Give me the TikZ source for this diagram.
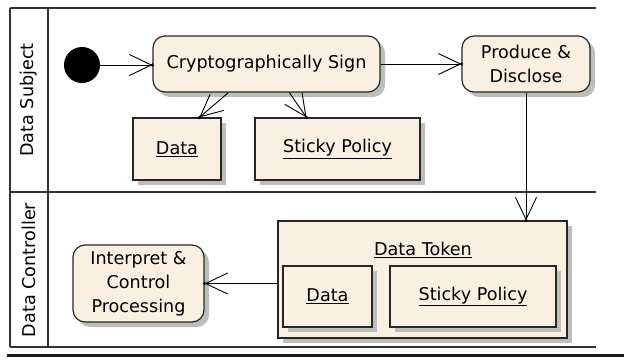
\documentclass[tikz,border=0pt]{standalone}
\usepackage{fontspec}
\setmainfont{DejaVu Sans}
\usetikzlibrary{arrows.meta,shadows,calc}
\definecolor{actfill}{HTML}{FAF0E1}
\definecolor{shade}{HTML}{BDBDBD}
\tikzset{
  every node/.style={font=\fontsize{17.6}{24}\selectfont, inner sep=0pt},
  withshadow/.style={general shadow={shadow xshift=5pt, shadow yshift=-5pt, fill=shade}},
  action/.style={draw=black!85, line width=1.2pt, fill=actfill, rounded corners=12pt,
                 align=center, withshadow},
  object/.style={draw=black!85, line width=1.2pt, fill=actfill, align=center, withshadow},
  lane/.style={draw=black!80, line width=1.6pt},
  flow/.style={draw=black, line width=0.9pt,
               -{Straight Barb[length=22pt,width=21pt,line width=0.9pt]}},
  tipdot/.style={fill=black},
}
\begin{document}
\begin{tikzpicture}[x=1pt,y=-1pt]
\useasboundingbox (0,0) rectangle (624,360);
\fill[white] (0,0) rectangle (624,360);

% swimlane frame
\draw[lane] (10,8) -- (596,8);
\draw[lane] (10,8) -- (10,347);
\draw[lane] (48,8) -- (48,347);
\draw[lane] (10,192) -- (596,192);
\draw[lane] (10,347) -- (596,347);
\draw[black!90, line width=3pt] (7,355) -- (624,355);

\node[rotate=90] (laneA) at (29,100) {Data Subject};
\node[rotate=90] (laneB) at (29,270) {Data Controller};

% upper lane
\node[circle, fill=black, minimum size=36pt] (start) at (82,65) {};
\node[action, minimum width=227pt, minimum height=56pt] (sign) at (266.5,64)
  {Cryptographically Sign};
\node[action, minimum width=128pt, minimum height=56pt] (disclose) at (526,64)
  {Produce \&\\Disclose};
\node[object, minimum width=88pt, minimum height=62pt] (data) at (177,149)
  {\underline{Data}};
\node[object, minimum width=165pt, minimum height=62pt] (policy) at (337.5,149)
  {\underline{Sticky Policy}};

% lower lane
\node[object, minimum width=289pt, minimum height=117pt] (token) at (422.5,279.5) {};
\node (tokenlabel) at (423,250) {\underline{Data Token}};
\node[object, minimum width=89pt, minimum height=61pt] (tdata) at (327.5,296.5)
  {\underline{Data}};
\node[object, minimum width=166pt, minimum height=61pt] (tpolicy) at (473,296.5)
  {\underline{Sticky Policy}};
\node[action, minimum width=131pt, minimum height=77pt] (interp) at (138.5,283.5)
  {Interpret \&\\Control\\Processing};

% flows
\draw[flow] (start) -- (start -| sign.west);
\fill[tipdot] (start -| sign.west) circle (1.8pt);

\draw[flow] (sign.east) -- (disclose.west);
\fill[tipdot] (disclose.west) circle (1.8pt);

\coordinate (s1) at ($(sign.south west)+(76,0)$);
\coordinate (d1) at ($(data.north west)+(67,0)$);
\draw[flow] (s1) -- (d1);
\fill[tipdot] (d1) circle (1.8pt);

\coordinate (s2) at ($(sign.south west)+(137,0)$);
\coordinate (p1) at ($(policy.north west)+(52,0)$);
\draw[flow] (s2) -- (p1);
\fill[tipdot] (p1) circle (1.8pt);

\draw[flow] (disclose.south) -- (disclose.south |- token.north);
\fill[tipdot] (disclose.south |- token.north) circle (1.8pt);

\draw[flow] (token.west |- interp.east) -- (interp.east);
\fill[tipdot] (interp.east) circle (1.8pt);
\end{tikzpicture}
\end{document}
